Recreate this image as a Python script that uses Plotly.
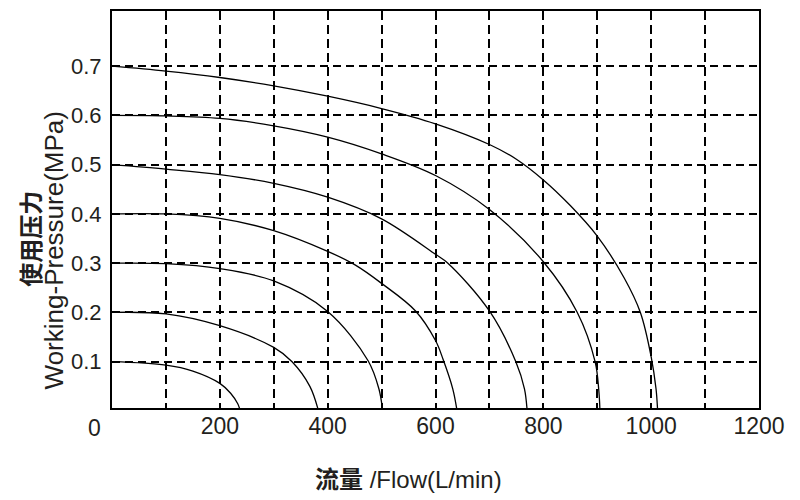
import plotly.graph_objects as go

# ---- data ----
pressures = [0.1, 0.2, 0.3, 0.4, 0.5, 0.6, 0.7]

flow_01 = [0, 100, 150, 200, 220, 233, 238]
pres_01 = [0.1, 0.093, 0.081, 0.056, 0.036, 0.015, 0]

flow_02 = [0, 100, 200, 300, 334, 367, 383]
pres_02 = [0.2, 0.197, 0.173, 0.129, 0.1, 0.05, 0]

flow_03 = [0, 100, 200, 300, 400, 475, 495, 502]
pres_03 = [0.3, 0.299, 0.289, 0.264, 0.202, 0.102, 0.045, 0]

flow_04 = [0, 100, 200, 300, 400, 450, 500, 563, 600, 614, 632, 640]
pres_04 = [0.4, 0.4, 0.391, 0.366, 0.324, 0.297, 0.259, 0.203, 0.143, 0.105, 0.045, 0]

flow_05 = [0, 100, 200, 300, 400, 500, 600, 623, 700, 749, 765, 770]
pres_05 = [0.5, 0.491, 0.48, 0.462, 0.434, 0.39, 0.318, 0.3, 0.203, 0.1, 0.045, 0]

flow_06 = [0, 100, 200, 300, 400, 500, 600, 700, 800, 863, 896, 903, 905]
pres_06 = [0.6, 0.599, 0.594, 0.579, 0.556, 0.522, 0.478, 0.409, 0.303, 0.2, 0.1, 0.04, 0]

flow_07 = [0, 100, 200, 300, 400, 500, 600, 700, 750, 800, 850, 900, 950, 980, 1000, 1009, 1012]
pres_07 = [0.7, 0.69, 0.677, 0.66, 0.639, 0.614, 0.583, 0.541, 0.511, 0.469, 0.417, 0.355, 0.27, 0.2, 0.11, 0.045, 0]

curves = [(flow_01, pres_01), (flow_02, pres_02), (flow_03, pres_03), (flow_04, pres_04),
          (flow_05, pres_05), (flow_06, pres_06), (flow_07, pres_07)]

x_tick_vals = [100, 200, 300, 400, 500, 600, 700, 800, 900, 1000, 1100, 1200]
x_tick_text = ["", "200", "", "400", "", "600", "", "800", "", "1000", "", "1200"]
y_tick_vals = [0.1, 0.2, 0.3, 0.4, 0.5, 0.6, 0.7]
y_tick_text = ["0.1", "0.2", "0.3", "0.4", "0.5", "0.6", "0.7"]

TXT = "#231f20"
LAT = "Liberation Sans, Arial, sans-serif"
CJK = "Noto Sans CJK SC, sans-serif"

fig = go.Figure()
for fx, py in curves:
    fig.add_trace(go.Scatter(x=fx, y=py, mode="lines",
                             line=dict(color="black", width=1.3, shape="spline", smoothing=1.0),
                             showlegend=False, hoverinfo="skip"))

# page body has an 8px margin, so the figure is sized/offset accordingly
fig.update_layout(
    width=792, height=492,
    margin=dict(l=104, r=41, t=1, b=92),
    paper_bgcolor="white", plot_bgcolor="white",
    showlegend=False,
)
fig.update_xaxes(
    range=[0, 1200], tickvals=x_tick_vals, ticktext=x_tick_text,
    showgrid=True, gridcolor="black", gridwidth=1.8, griddash="9px,5px",
    showline=True, linecolor="black", linewidth=2, mirror=True,
    ticks="", zeroline=False,
    tickfont=dict(family=LAT, size=23, color=TXT),
    ticklabelstandoff=-4,
)
fig.update_yaxes(
    range=[0.006, 0.812], tickvals=y_tick_vals, ticktext=y_tick_text,
    showgrid=True, gridcolor="black", gridwidth=1.8, griddash="8px,5px",
    showline=True, linecolor="black", linewidth=2, mirror=True,
    ticks="", zeroline=False,
    tickfont=dict(family=LAT, size=22, color=TXT),
    ticklabelstandoff=4,
)

# origin label "0"
fig.add_annotation(text="0", xref="paper", yref="paper", x=-0.0263, y=-0.05,
                   xanchor="center", yanchor="middle", showarrow=False,
                   font=dict(family=LAT, size=23, color=TXT))
# y-axis title (two lines)
fig.add_annotation(text="<b>使用压力</b>", xref="paper", yref="paper", x=-0.127, y=0.426,
                   xanchor="center", yanchor="middle", textangle=-90, showarrow=False,
                   font=dict(family=CJK, size=24, color=TXT))
fig.add_annotation(text="Working-Pressure(MPa)", xref="paper", yref="paper", x=-0.089, y=0.398,
                   xanchor="center", yanchor="middle", textangle=-90, showarrow=False,
                   font=dict(family=LAT, size=26, color=TXT))
# x-axis title
fig.add_annotation(text="<span style='font-family:Noto Sans CJK SC'><b>流量</b></span> /Flow(L/min)",
                   xref="paper", yref="paper", x=0.4588, y=-0.174,
                   xanchor="center", yanchor="middle", showarrow=False,
                   font=dict(family=LAT, size=24, color=TXT))

fig.write_html("out.html")
